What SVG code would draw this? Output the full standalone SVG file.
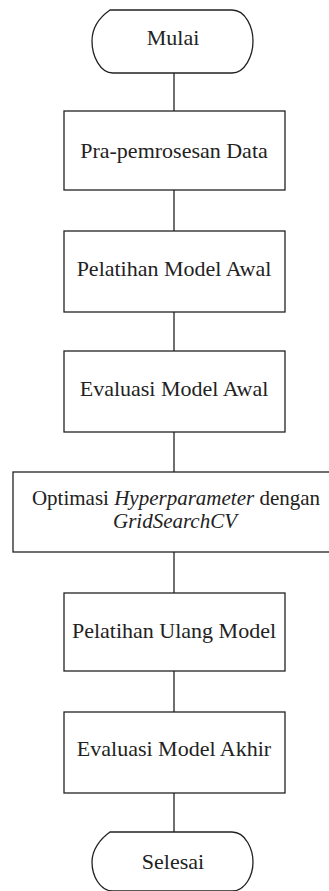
<svg xmlns="http://www.w3.org/2000/svg" width="329" height="891" viewBox="0 0 329 891">
<style>
.s{fill:#fff;stroke:#222;stroke-width:1.3}
.t{font-family:"Liberation Serif","Times New Roman",serif;font-size:22px;fill:#222;text-anchor:middle}
.c{stroke:#222;stroke-width:1.3;fill:none}
</style>
<rect width="329" height="891" fill="#fff"/>
<g id="connectors">
<line class="c" x1="174" y1="73" x2="174" y2="111"/>
<line class="c" x1="174" y1="190" x2="174" y2="231"/>
<line class="c" x1="174" y1="312" x2="174" y2="351"/>
<line class="c" x1="174" y1="432" x2="174" y2="472"/>
<line class="c" x1="174" y1="552" x2="174" y2="593"/>
<line class="c" x1="174" y1="671" x2="174" y2="712"/>
<line class="c" x1="174" y1="793" x2="174" y2="832"/>
</g>
<g id="mulai">
<path class="s" d="M110,10 L232,10 C246,10 253,28 253,41 C253,56 245,73 232,73 L113,73 C100,73 92,56 92,41 C92,28 100,17 110,10 Z"/>
<text class="t" x="173" y="45">Mulai</text>
</g>
<g id="pra">
<rect class="s" x="64" y="111" width="221" height="79"/>
<text class="t" x="174" y="158">Pra-pemrosesan Data</text>
</g>
<g id="pelatihan">
<rect class="s" x="64" y="231" width="221" height="81"/>
<text class="t" x="174" y="276">Pelatihan Model Awal</text>
</g>
<g id="evaluasi">
<rect class="s" x="64" y="351" width="221" height="81"/>
<text class="t" x="174" y="396">Evaluasi Model Awal</text>
</g>
<g id="optimasi">
<rect class="s" x="13" y="472" width="330" height="80"/>
<text class="t" x="176" y="505" style="font-size:21px">Optimasi <tspan font-style="italic">Hyperparameter</tspan> dengan</text>
<text class="t" x="175" y="528" style="font-size:21px" font-style="italic">GridSearchCV</text>
</g>
<g id="ulang">
<rect class="s" x="64" y="593" width="221" height="78"/>
<text class="t" x="174" y="638">Pelatihan Ulang Model</text>
</g>
<g id="akhir">
<rect class="s" x="64" y="712" width="221" height="81"/>
<text class="t" x="174" y="756">Evaluasi Model Akhir</text>
</g>
<g id="selesai">
<path class="s" d="M110,832 L232,832 C246,832 253,850 253,862 C253,876 245,891 232,891 L113,891 C100,891 92,876 92,862 C92,850 100,839 110,832 Z"/>
<text class="t" x="173" y="869">Selesai</text>
</g>
</svg>
